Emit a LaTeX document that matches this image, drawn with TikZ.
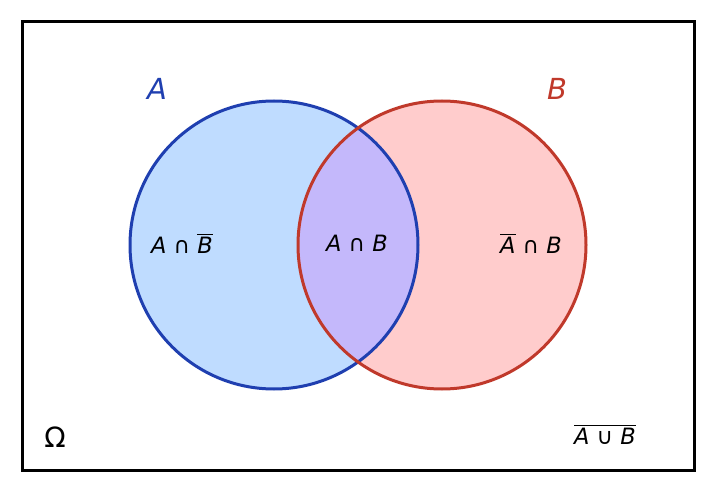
\documentclass[tikz,border=0pt]{standalone}
\usepackage{fontspec}
\setmainfont{DejaVu Sans}
\definecolor{bstroke}{HTML}{1F3FB0}
\definecolor{bfill}{HTML}{BFDCFF}
\definecolor{rstroke}{HTML}{C0392B}
\definecolor{rfill}{HTML}{FFCCCC}
\definecolor{ifill}{HTML}{C4B8FB}
\newcommand{\ovl}[1]{\leavevmode\vbox{\hrule height 1.1pt\kern2pt\hbox{#1}}}
\begin{document}
\begin{tikzpicture}[x=1pt,y=-1pt,
  lab/.style={font=\fontsize{22.5}{26}\selectfont\itshape},
  big/.style={font=\fontsize{29}{34}\selectfont\itshape}]
\useasboundingbox (0,0) rectangle (716,492);
\draw[line width=3pt] (22,22) rectangle (694,470);
\fill[bfill] (274,245) circle (144);
\fill[rfill] (442,245) circle (144);
\begin{scope}
\clip (274,245) circle (144);
\fill[ifill] (442,245) circle (144);
\end{scope}
\draw[bstroke,line width=3pt] (274,245) circle (144);
\draw[rstroke,line width=3pt] (442,245) circle (144);
\node[big,text=bstroke] (la) at (157,89) {A};
\node[big,text=rstroke] (lb) at (557,89) {B};
\node[lab] (anb) at (182,244) {A ∩ \ovl{B}};
\node[lab] (ab) at (357,243) {A ∩ B};
\node[lab] (nab) at (531,244) {\ovl{A} ∩ B};
\node[font=\fontsize{28}{32}\selectfont] (om) at (55,437) {Ω};
\node[lab] (nu) at (605,435) {\ovl{A ∪ B}};
\end{tikzpicture}
\end{document}
